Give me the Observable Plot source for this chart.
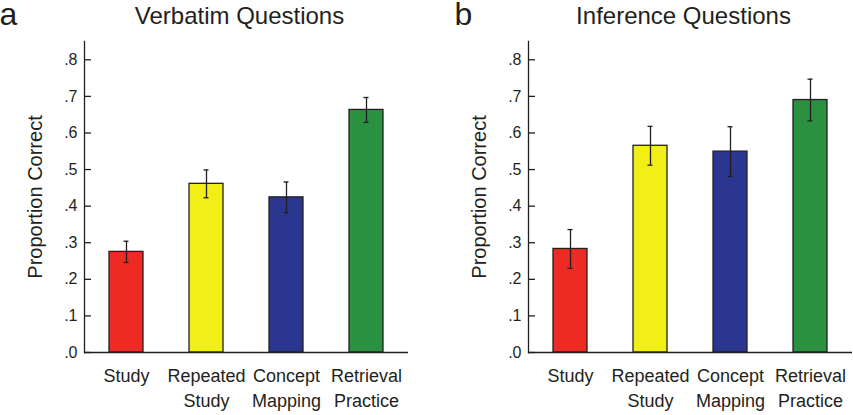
<!DOCTYPE html>
<html>
<head>
<meta charset="utf-8">
<script src="https://cdn.jsdelivr.net/npm/d3@7"></script>
<script src="https://cdn.jsdelivr.net/npm/@observablehq/plot@0.6"></script>
<style>
  html, body { margin: 0; padding: 0; background: #fff; }
  #wrap { display: flex; flex-direction: row; width: 853px; height: 415px; }
</style>
</head>
<body>
<div id="wrap"></div>
<script>
const categories = ["Study", "Repeated Study", "Concept Mapping", "Retrieval Practice"];
const categoryLabels = ["Study", "Repeated\nStudy", "Concept\nMapping", "Retrieval\nPractice"];
const barColors = ["#ED2A24", "#F2EF16", "#2B3691", "#2A9141"];
const verbatimMean = [0.275, 0.461, 0.424, 0.663];
const verbatimErr = [0.029, 0.038, 0.042, 0.034];
const inferenceMean = [0.283, 0.565, 0.549, 0.690];
const inferenceErr = [0.053, 0.053, 0.068, 0.057];
const yTicks = [0, 0.1, 0.2, 0.3, 0.4, 0.5, 0.6, 0.7, 0.8];
const yTickLabels = [".0", ".1", ".2", ".3", ".4", ".5", ".6", ".7", ".8"];
const panels = [
  {letter: "a", title: "Verbatim Questions", mean: verbatimMean, err: verbatimErr, width: 444, marginRight: 36, letterDx: -85},
  {letter: "b", title: "Inference Questions", mean: inferenceMean, err: inferenceErr, width: 409, marginRight: 1, letterDx: -74}
];

const ink = "#231F20";
const font = "'Liberation Sans', Arial, Helvetica, sans-serif";

for (const p of panels) {
  const rows = categories.map((c, i) => ({cat: c, label: categoryLabels[i], color: barColors[i], m: p.mean[i], e: p.err[i]}));
  const marginLeft = 84, marginTop = 41, marginBottom = 63;
  const plotW = p.width - marginLeft - p.marginRight;
  const chart = Plot.plot({
    width: p.width,
    height: 415,
    marginLeft, marginRight: p.marginRight, marginTop, marginBottom,
    style: {fontFamily: font, color: ink, background: "#fff", overflow: "visible"},
    x: {domain: categories, axis: null, paddingInner: 0.576, paddingOuter: 0.308},
    y: {domain: [0, 0.85], axis: null},
    marks: [
      Plot.barY(rows, {x: "cat", y: "m", fill: "color", stroke: ink, strokeWidth: 1.3}),
      Plot.ruleX(rows, {x: "cat", y1: d => d.m - d.e, y2: d => d.m + d.e, stroke: ink, strokeWidth: 1.3}),
      Plot.tickY(rows, {x: "cat", y: d => d.m + d.e, stroke: ink, strokeWidth: 1.3, insetLeft: 14.5, insetRight: 14.5}),
      Plot.tickY(rows, {x: "cat", y: d => d.m - d.e, stroke: ink, strokeWidth: 1.3, insetLeft: 14.5, insetRight: 14.5}),
      Plot.frame({anchor: "left", stroke: ink, strokeWidth: 1.3}),
      Plot.ruleY([0], {stroke: ink, strokeWidth: 1.3}),
      Plot.ruleY(yTicks, {y: d => d, stroke: ink, strokeWidth: 1.3, insetRight: plotW - 7}),
      Plot.text(yTicks, {y: d => d, text: (d, i) => yTickLabels[i], frameAnchor: "left", textAnchor: "end", dx: -7, fontSize: 16, fill: ink}),
      Plot.text(rows, {x: "cat", text: "label", frameAnchor: "bottom", lineAnchor: "top", dy: 12, fontSize: 18, lineHeight: 1.38, fill: ink}),
      Plot.text(["Proportion Correct"], {frameAnchor: "left", textAnchor: "middle", lineAnchor: "middle", rotate: -90, dx: -49, fontSize: 20, fill: ink}),
      Plot.text([p.title], {frameAnchor: "top", lineAnchor: "bottom", dx: -7, dy: -18, fontSize: 24, fill: ink}),
      Plot.text([p.letter], {frameAnchor: "top-left", textAnchor: "start", lineAnchor: "bottom", dx: p.letterDx, dy: -17, fontSize: 32, fill: ink})
    ]
  });
  document.getElementById("wrap").appendChild(chart);
}
</script>
</body>
</html>
